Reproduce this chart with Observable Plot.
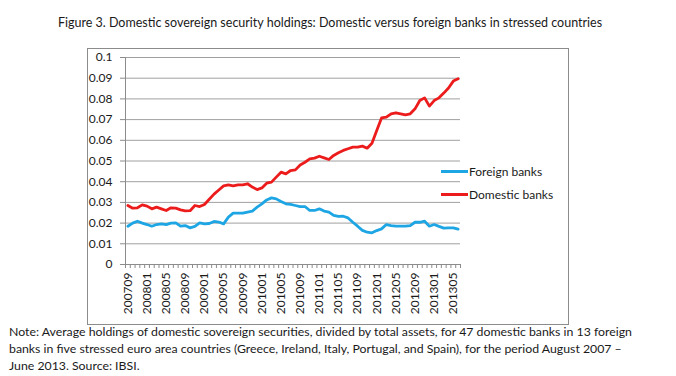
<!DOCTYPE html>
<html><head><meta charset="utf-8">
<script src="https://cdn.jsdelivr.net/npm/d3@7"></script>
<script src="https://cdn.jsdelivr.net/npm/@observablehq/plot@0.6"></script>
<style>
body{margin:0;background:#fff;font-family:Lato,sans-serif;color:#1a1a1a}
#page{position:relative;width:676px;height:376px;overflow:hidden;background:#fff}
#title{position:absolute;left:0;width:660px;top:15px;text-align:center;font-size:12.5px;white-space:nowrap}
#box{position:absolute;left:87px;top:48px;width:480px;height:275px;border:1px solid #8c8c8c}
#chart{position:absolute;left:0;top:0}
#legend{position:absolute;left:441px;top:160px;font-size:12px}
.item{display:flex;align-items:center;height:23px}
.sw{width:27px;height:3px;margin-right:1px}
#note{position:absolute;left:9px;top:324px;font-size:12.3px;line-height:16.8px;white-space:nowrap}
</style></head>
<body>
<div id="page">
<div id="title">Figure 3. Domestic sovereign security holdings: Domestic versus foreign banks in stressed countries</div>
<div id="box"></div>
<div id="chart"></div>
<div id="legend"></div>
<div id="note">Note: Average holdings of domestic sovereign securities, divided by total assets, for 47 domestic banks in 13 foreign<br>banks in five stressed euro area countries (Greece, Ireland, Italy, Portugal, and Spain), for the period August 2007 –<br>June 2013. Source: IBSI.</div>
</div>
<script>
const months = ["200709","200710","200711","200712",
"200801","200802","200803","200804","200805","200806","200807","200808","200809","200810","200811","200812",
"200901","200902","200903","200904","200905","200906","200907","200908","200909","200910","200911","200912",
"201001","201002","201003","201004","201005","201006","201007","201008","201009","201010","201011","201012",
"201101","201102","201103","201104","201105","201106","201107","201108","201109","201110","201111","201112",
"201201","201202","201203","201204","201205","201206","201207","201208","201209","201210","201211","201212",
"201301","201302","201303","201304","201305","201306"];

const foreignBanks = [0.0185,0.020,0.0209,0.020,0.0193,0.0185,0.0193,0.0196,0.0193,0.020,
 0.0201,0.0185,0.0188,0.0177,0.0184,0.0201,0.0196,0.0198,0.0208,0.0205,
 0.0196,0.0229,0.0248,0.0248,0.0248,0.0253,0.0258,0.0277,0.0293,0.0312,
 0.0322,0.0317,0.0304,0.0293,0.029,0.0285,0.028,0.028,0.0261,0.0261,
 0.0269,0.0258,0.0253,0.0237,0.0232,0.0233,0.0225,0.0204,0.0185,0.0165,
 0.0156,0.0153,0.0164,0.0172,0.0193,0.0188,0.0185,0.0185,0.0185,0.0188,
 0.0204,0.0204,0.0209,0.0185,0.0193,0.0184,0.0176,0.0177,0.0177,0.0171];

const domesticBanks = [0.0285,0.0272,0.0274,0.0288,0.0282,0.0269,0.0277,0.0269,0.0261,0.0274,
 0.0272,0.0264,0.0259,0.026,0.0285,0.028,0.029,0.0315,0.034,0.036,
 0.038,0.0385,0.038,0.0385,0.0385,0.039,0.0374,0.0362,0.037,0.0393,
 0.0398,0.0422,0.0446,0.0438,0.0454,0.0457,0.0481,0.0494,0.051,0.0514,
 0.0523,0.0515,0.0507,0.0527,0.054,0.0551,0.0559,0.0567,0.0567,0.0572,
 0.0562,0.0586,0.0647,0.0708,0.0712,0.0728,0.0733,0.0728,0.0723,0.0728,
 0.0752,0.0792,0.0805,0.0765,0.0792,0.0805,0.0828,0.0853,0.0886,0.0897];

const xTickLabels = ["200709","200801","200805","200809","200901","200905","200909","201001","201005",
 "201009","201101","201105","201109","201201","201205","201209","201301","201305"];
const yTicks = [0,0.01,0.02,0.03,0.04,0.05,0.06,0.07,0.08,0.09,0.1];
const yTickLabels = ["0","0.01","0.02","0.03","0.04","0.05","0.06","0.07","0.08","0.09","0.1"];

const seriesNames = ["Foreign banks","Domestic banks"];
const seriesColors = ["#1ea5e3","#ec1c1c"];

const foreignData = months.map((m,i)=>({i, m, v: foreignBanks[i]}));
const domesticData = months.map((m,i)=>({i, m, v: domesticBanks[i]}));
const boundaries = d3.range(months.length + 1).map(k => k - 0.5);
const labelIdx = xTickLabels.map(l => months.indexOf(l));

const axisGray = "#8c8c8c";
const plot = Plot.plot({
  width: 676, height: 376,
  marginLeft: 125, marginRight: 216, marginTop: 57, marginBottom: 112,
  style: {fontFamily: "Lato, sans-serif", fontSize: "12px", color: "#1a1a1a", background: "transparent", overflow: "visible"},
  x: {type: "linear", domain: [-0.5, months.length - 0.5]},
  y: {domain: [0, 0.1]},
  marks: [
    Plot.gridY(yTicks, {stroke: "#a0a0a0", strokeOpacity: 1}),
    Plot.ruleX([-0.5], {stroke: axisGray}),
    Plot.ruleY([0], {stroke: axisGray}),
    Plot.axisY(yTicks, {tickSize: 5, tickPadding: 8, stroke: axisGray, tickFormat: (d, i) => yTickLabels[yTicks.indexOf(d)], label: null}),
    Plot.axisX(boundaries, {tickSize: 4, tickFormat: () => "", stroke: axisGray, label: null}),
    Plot.axisX(labelIdx, {tickSize: 0, tickPadding: 8, tickRotate: -90, tickFormat: d => months[d], label: null}),
    Plot.line(foreignData, {x: "i", y: "v", stroke: seriesColors[0], strokeWidth: 2.8}),
    Plot.line(domesticData, {x: "i", y: "v", stroke: seriesColors[1], strokeWidth: 2.8})
  ]
});
document.getElementById("chart").appendChild(plot);

const legend = document.getElementById("legend");
seriesNames.forEach((n, k) => {
  const it = document.createElement("div");
  it.className = "item";
  it.innerHTML = `<span class="sw" style="background:${seriesColors[k]}"></span><span>${n}</span>`;
  legend.appendChild(it);
});
</script>
</body></html>
